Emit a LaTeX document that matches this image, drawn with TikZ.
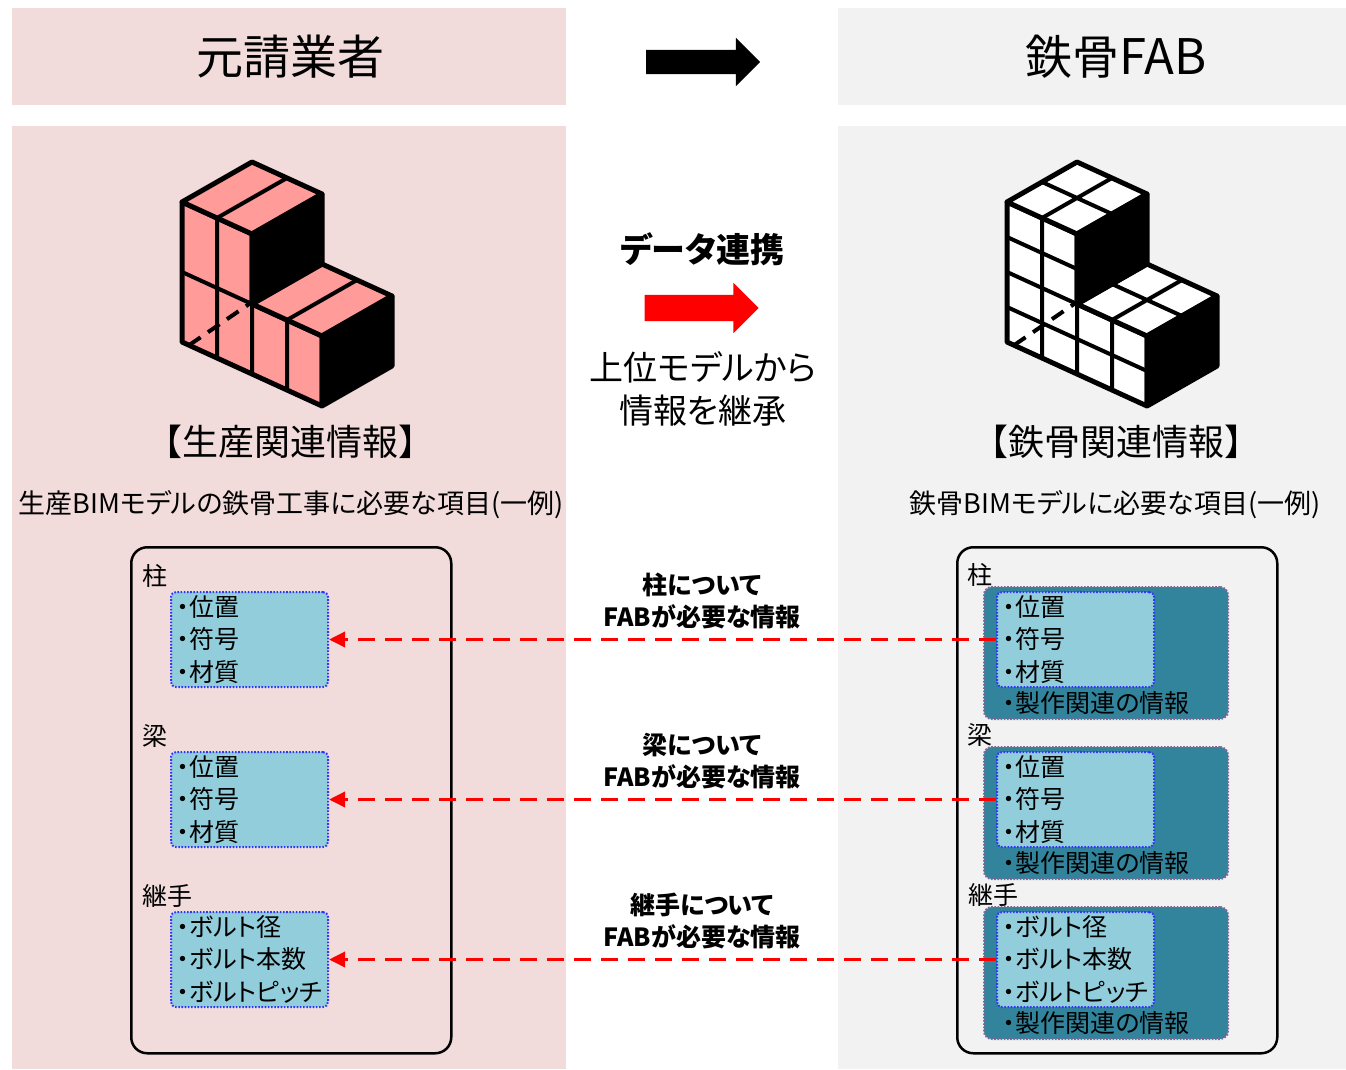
\documentclass[tikz,border=0pt]{standalone}
\usepackage{fontspec}
\setmainfont{Noto Sans CJK JP}[RawFeature=+palt]
\newfontfamily\fullwidth{Noto Sans CJK JP}
\usetikzlibrary{arrows.meta,shapes.arrows}

\definecolor{pinkbg}{HTML}{F2DCDB}
\definecolor{graybg}{HTML}{F2F2F2}
\definecolor{cubepink}{HTML}{FF9B99}
\definecolor{lightblue}{HTML}{92CDDC}
\definecolor{tealbox}{HTML}{31849B}
\definecolor{dotblue}{HTML}{3333FF}
\definecolor{dotpurple}{HTML}{7F6699}
\definecolor{arrowred}{HTML}{FF0000}

\begin{document}
\begin{tikzpicture}[x=1pt,y=-1pt,
  headpanel/.style={minimum height=97pt, inner sep=0pt, anchor=north west},
  headtext/.style={inner sep=0pt, font=\fontsize{47}{50}\selectfont},
  plain/.style={inner sep=0pt},
  container/.style={draw=black, line width=2.5pt, rounded corners=16pt,
    minimum width=320pt, minimum height=506pt, anchor=north west, inner sep=0pt},
  bluebox/.style={fill=lightblue, draw=dotblue, line width=2pt,
    dash pattern=on 1.6pt off 1.6pt, rounded corners=5pt,
    minimum width=157pt, minimum height=95pt, anchor=north west, inner sep=0pt},
  tealouter/.style={fill=tealbox, draw=dotpurple, line width=2pt,
    dash pattern=on 1.6pt off 1.6pt, rounded corners=8pt,
    minimum width=244pt, minimum height=132pt, anchor=north west, inner sep=0pt},
  itemtext/.style={anchor=north west, inner sep=0pt, align=left,
    font=\fontsize{25}{32.5}\selectfont},
  grouplabel/.style={inner sep=0pt, font=\fontsize{25}{30}\selectfont},
  needlabel/.style={inner sep=0pt, align=center,
    font=\bfseries\fontsize{25}{32}\selectfont},
  reddash/.style={draw=arrowred, line width=3.5pt, dash pattern=on 17pt off 10pt,
    -{Triangle[length=16pt,width=15pt]}},
  blockarrow/.style={single arrow, single arrow head extend=12pt,
    single arrow tip angle=90, inner sep=0pt, minimum height=114pt},
  edge5/.style={line width=5pt, line join=round, line cap=round},
  grid4/.style={line width=4pt, line cap=butt},
]
\useasboundingbox (0,0) rectangle (1346,1069);
\fill[white] (0,0) rectangle (1346,1069);

% panels
\node[headpanel, fill=pinkbg, minimum width=554pt] (lefthead) at (12,8) {};
\node[headpanel, fill=graybg, minimum width=508pt] (righthead) at (838,8) {};
\node[headtext] (lefttext) at (290,57) {元請業者};
\node[headtext] (righttext) at (1116,57) {鉄骨{\fontsize{49}{50}\selectfont FAB}};
\fill[pinkbg] (12,126) rectangle (566,1069);
\fill[graybg] (838,126) rectangle (1346,1069);

% top arrow
\node[blockarrow, fill=black, minimum width=48pt, text height=24pt] (toparrow) at (697,62) {};

% left L-shaped block icon
\begin{scope}[shift={(182,342)}, x={(70pt,-32pt)}, y={(70pt,40pt)}, z={(0pt,70pt)}]
  \filldraw[edge5, fill=cubepink] (0,0,0)--(2,0,0)--(2,0,1)--(1,0,1)--(1,0,2)--(0,0,2)--cycle;
  \filldraw[edge5, fill=cubepink] (0,0,2)--(1,0,2)--(1,1,2)--(0,1,2)--cycle;
  \filldraw[edge5, fill=cubepink] (1,0,1)--(2,0,1)--(2,1,1)--(1,1,1)--cycle;
  \filldraw[edge5, fill=black] (1,0,1)--(1,0,2)--(1,1,2)--(1,1,1)--cycle;
  \filldraw[edge5, fill=black] (2,0,0)--(2,0,1)--(2,1,1)--(2,1,0)--cycle;
  \draw[grid4, dash pattern=on 14pt off 9pt] (0.1,0,0)--(0,1,0);
  \draw[grid4] (0.5,0,0)--(0.5,0,2) (1,0,0)--(1,0,1) (1.5,0,0)--(1.5,0,1)
               (0,0,1)--(1,0,1)
               (0.5,0,2)--(0.5,1,2) (1.5,0,1)--(1.5,1,1);
\end{scope}

% right L-shaped block icon
\begin{scope}[shift={(1007,342)}, x={(70pt,-32pt)}, y={(70pt,40pt)}, z={(0pt,70pt)}]
  \filldraw[edge5, fill=white] (0,0,0)--(2,0,0)--(2,0,1)--(1,0,1)--(1,0,2)--(0,0,2)--cycle;
  \filldraw[edge5, fill=white] (0,0,2)--(1,0,2)--(1,1,2)--(0,1,2)--cycle;
  \filldraw[edge5, fill=white] (1,0,1)--(2,0,1)--(2,1,1)--(1,1,1)--cycle;
  \filldraw[edge5, fill=black] (1,0,1)--(1,0,2)--(1,1,2)--(1,1,1)--cycle;
  \filldraw[edge5, fill=black] (2,0,0)--(2,0,1)--(2,1,1)--(2,1,0)--cycle;
  \draw[grid4, dash pattern=on 14pt off 9pt] (0.1,0,0)--(0,1,0);
  \draw[grid4] (0.5,0,0)--(0.5,0,2) (1,0,0)--(1,0,1) (1.5,0,0)--(1.5,0,1)
               (0,0,1.5)--(1,0,1.5) (0,0,1)--(1,0,1) (0,0,0.5)--(2,0,0.5)
               (0.5,0,2)--(0.5,1,2) (0,0.5,2)--(1,0.5,2)
               (1.5,0,1)--(1.5,1,1) (1,0.5,1)--(2,0.5,1);
\end{scope}

% middle column
\node[plain, font=\bfseries\fontsize{34}{40}\selectfont] (linktitle) at (702,249) {データ連携};
\node[blockarrow, fill=arrowred, minimum width=50pt, text height=26pt] (redarrow) at (695,308) {};
\node[plain, align=center, font=\fontsize{34}{43}\selectfont] (inherit) at (703,389) {上位モデルから\\情報を継承};

% section titles
\node[plain, font=\fullwidth\fontsize{36}{40}\selectfont] (lefttitle) at (290,442) {【生産関連情報】};
\node[plain, font=\fullwidth\fontsize{36}{40}\selectfont] (righttitle) at (1116,442) {【鉄骨関連情報】};
\node[plain, font=\fontsize{27}{30}\selectfont] (leftsub) at (291,505) {生産BIMモデルの鉄骨工事に必要な項目(一例)};
\node[plain, font=\fontsize{27}{30}\selectfont] (rightsub) at (1115,505) {鉄骨BIMモデルに必要な項目(一例)};

% containers
\node[container] (leftbox) at (130,546) {};
\node[container] (rightbox) at (956,546) {};

% left items
\node[grouplabel] (lcol) at (155,576) {柱};
\node[bluebox] (l1) at (170,591) {};
\node[itemtext] (l1t) at (177,595) {・位置\\・符号\\・材質};
\node[grouplabel] (lbeam) at (155,736) {梁};
\node[bluebox] (l2) at (170,751) {};
\node[itemtext] (l2t) at (177,755) {・位置\\・符号\\・材質};
\node[grouplabel] (ljoint) at (167,896) {継手};
\node[bluebox] (l3) at (170,911) {};
\node[itemtext] (l3t) at (177,915) {・ボルト径\\・ボルト本数\\・ボルトピッチ};

% right items
\node[grouplabel] (rcol) at (980,575) {柱};
\node[tealouter] (o1) at (983,586) {};
\node[bluebox] (r1) at (996,591) {};
\node[itemtext] (r1t) at (1003,595) {・位置\\・符号\\・材質};
\node[itemtext, anchor=west] (r1m) at (1003,703) {・製作関連の情報};
\node[grouplabel] (rbeam) at (980,735) {梁};
\node[tealouter] (o2) at (983,746) {};
\node[bluebox] (r2) at (996,751) {};
\node[itemtext] (r2t) at (1003,755) {・位置\\・符号\\・材質};
\node[itemtext, anchor=west] (r2m) at (1003,863) {・製作関連の情報};
\node[grouplabel] (rjoint) at (993,895) {継手};
\node[tealouter] (o3) at (983,906) {};
\node[bluebox] (r3) at (996,911) {};
\node[itemtext] (r3t) at (1003,915) {・ボルト径\\・ボルト本数\\・ボルトピッチ};
\node[itemtext, anchor=west] (r3m) at (1003,1023) {・製作関連の情報};

% data links
\node[needlabel] (need1) at (702,601) {柱について\\FABが必要な情報};
\node[needlabel] (need2) at (702,761) {梁について\\FABが必要な情報};
\node[needlabel] (need3) at (702,921) {継手について\\FABが必要な情報};
\draw[reddash] (r1.west) -- (l1.east);
\draw[reddash] (r2.west) -- (l2.east);
\draw[reddash] (r3.west) -- (l3.east);
\end{tikzpicture}
\end{document}
